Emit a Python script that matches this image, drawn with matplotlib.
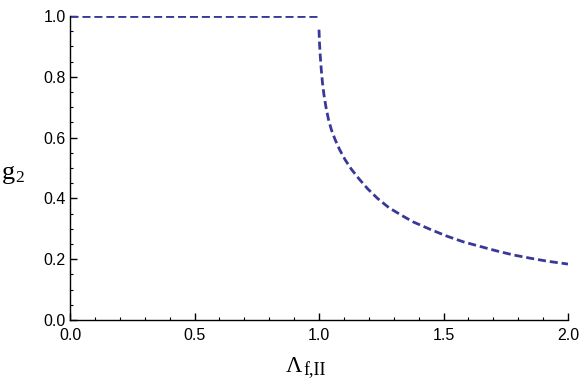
import matplotlib
matplotlib.use("Agg")
import matplotlib.pyplot as plt
from matplotlib.ticker import MultipleLocator, FormatStrFormatter

# Flat part (Lambda <= 1)
flat_x = [0.0, 1.0]
flat_g = [1.0, 1.0]

# Decaying part (Lambda >= 1)
curve_x = [1.0, 1.002, 1.005, 1.009, 1.014, 1.020, 1.028, 1.038, 1.050, 1.065,
           1.083, 1.105, 1.130, 1.160, 1.195, 1.235, 1.28, 1.33, 1.38, 1.45,
           1.513, 1.58, 1.647, 1.71, 1.78, 1.85, 1.92, 2.0]
curve_g = [0.955, 0.91, 0.87, 0.825, 0.78, 0.74, 0.70, 0.66, 0.625, 0.593,
           0.560, 0.527, 0.496, 0.465, 0.432, 0.400, 0.370, 0.345, 0.322, 0.297,
           0.276, 0.257, 0.242, 0.228, 0.214, 0.203, 0.193, 0.184]

plt.rcParams['font.family'] = ['Liberation Sans', 'DejaVu Sans']

W, H = 584, 388
fig = plt.figure(figsize=(W / 100, H / 100), dpi=100)
ax = fig.add_axes([70 / W, 1 - 320 / H, 498 / W, 304 / H])

color = '#38389a'
ax.plot(flat_x, flat_g, color=color, lw=2.0, dashes=(2.9, 1.4))
ax.plot(curve_x, curve_g, color=color, lw=2.0, dashes=(2.9, 1.4))

ax.set_xlim(0, 2)
ax.set_ylim(0, 1)
ax.xaxis.set_major_locator(MultipleLocator(0.5))
ax.xaxis.set_minor_locator(MultipleLocator(0.1))
ax.yaxis.set_major_locator(MultipleLocator(0.2))
ax.yaxis.set_minor_locator(MultipleLocator(0.05))
ax.xaxis.set_major_formatter(FormatStrFormatter('%.1f'))
ax.yaxis.set_major_formatter(FormatStrFormatter('%.1f'))

for s in ['top', 'right']:
    ax.spines[s].set_visible(False)
for s in ['left', 'bottom']:
    ax.spines[s].set_linewidth(1.0)

ax.tick_params(which='major', direction='in', length=5, width=1.0, labelsize=11.5)
ax.tick_params(axis='x', which='major', pad=6)
ax.tick_params(axis='y', which='major', pad=3)
ax.tick_params(which='minor', direction='in', length=2.5, width=0.8)

serif = ['Liberation Serif', 'DejaVu Serif']
# x-axis label: Lambda with subscript f,II
fig.text(286 / W, 1 - 372 / H, 'Λ', fontsize=16.3, family=serif, ha='left', va='baseline')
fig.text(303 / W, 1 - 375 / H, 'f,II', fontsize=13, family=serif, ha='left', va='baseline')
# y-axis label: g with subscript 2
fig.text(2 / W, 1 - 179 / H, 'g', fontsize=19, family=serif, ha='left', va='baseline')
fig.text(15 / W, 1 - 182 / H, '2', fontsize=12.5, family=serif, ha='left', va='baseline')

fig.savefig('out.png', dpi=100)
